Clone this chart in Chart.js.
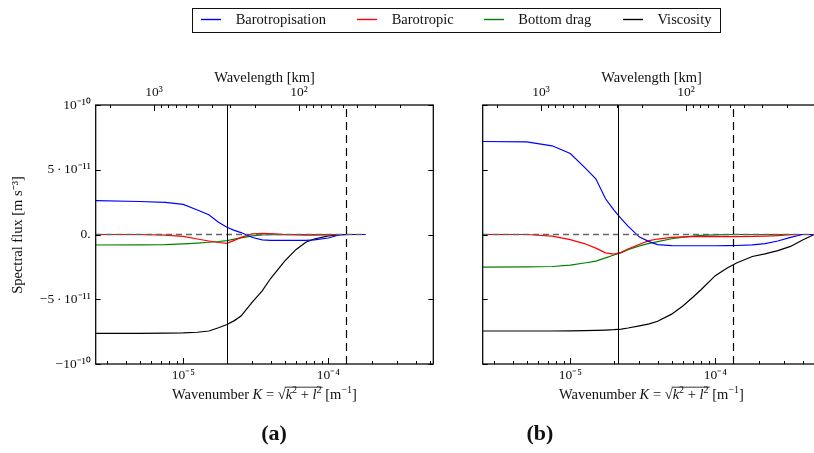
<!DOCTYPE html>
<html>
<head>
<meta charset="utf-8">
<script src="https://cdn.jsdelivr.net/npm/chart.js@4.4.1/dist/chart.umd.min.js"></script>
<style>
  html, body { margin: 0; padding: 0; background: #fff; }
  body { width: 814px; height: 453px; position: relative; overflow: hidden; font-family: "Liberation Serif", serif; color: #111; }
  canvas { position: absolute; top: 0; }
  #legend { position: absolute; left: 192px; top: 8px; width: 529px; height: 25px; border: 1px solid #111; box-sizing: border-box; z-index: 2; }
  .sw { position: absolute; top: 9px; width: 20px; height: 3px; }
  .lb { position: absolute; top: 2px; font-size: 14.5px; line-height: 17px; }
  .tag { position: absolute; top: 420px; width: 60px; text-align: center; font: bold 22px "Liberation Serif", serif; }
</style>
</head>
<body>
<div id="legend"></div>
<canvas id="panelA" width="440" height="453" style="left:0"></canvas>
<canvas id="panelB" width="440" height="453" style="left:390px"></canvas>
<div class="tag" style="left:244px">(a)</div>
<div class="tag" style="left:510px">(b)</div>
<script>
// series names and colours
const seriesNames = ["Barotropisation", "Barotropic", "Bottom drag", "Viscosity"];
const seriesColors = ["#0000ff", "#ff0000", "#008000", "#000000"];

// y ticks, flux in units of 1e-11 m s^-3
const yTicks = [-10, -5, 0, 5, 10];
const yTickText = ["\u221210\u207B\u00B9\u2070", "\u22125\u2009\u00B7\u200910\u207B\u00B9\u00B9", "0.", "5\u2009\u00B7\u200910\u207B\u00B9\u00B9", "10\u207B\u00B9\u2070"];

// panel (a): wavenumber K [m^-1] and fluxes [1e-11 m s^-3]
const kA = [2.5e-6, 5e-6, 7.5e-6, 1e-5, 1.25e-5, 1.5e-5, 1.75e-5, 2e-5, 2.25e-5, 2.5e-5, 3e-5, 3.5e-5, 4e-5, 5e-5, 6e-5, 7e-5, 8e-5, 1e-4, 1.2e-4, 1.4e-4, 1.8e-4];
const baroA = [2.61, 2.55, 2.48, 2.32, 1.89, 1.52, 0.94, 0.56, 0.32, 0.15, -0.23, -0.42, -0.45, -0.46, -0.46, -0.45, -0.42, -0.27, -0.02, 0, 0];
const tropA = [0, 0, -0.05, -0.15, -0.35, -0.5, -0.62, -0.68, -0.45, -0.22, 0.05, 0.08, 0.06, 0, -0.03, -0.05, -0.05, -0.04, -0.02, 0, 0];
const dragA = [-0.81, -0.8, -0.78, -0.72, -0.66, -0.6, -0.54, -0.47, -0.36, -0.26, -0.1, -0.04, -0.02, -0.01, 0, 0, 0, 0, 0, 0, 0];
const viscA = [-7.63, -7.63, -7.62, -7.6, -7.55, -7.45, -7.2, -6.95, -6.65, -6.3, -5.2, -4.35, -3.4, -2.05, -1.15, -0.6, -0.35, -0.1, -0.02, 0, 0];
const kSolidA = 2.0e-5;
const kDashA = 1.32e-4;

// panel (b)
const kB = [2.5e-6, 5e-6, 7.5e-6, 1e-5, 1.25e-5, 1.5e-5, 1.75e-5, 2e-5, 2.25e-5, 2.5e-5, 3e-5, 3.5e-5, 4e-5, 5e-5, 6e-5, 7e-5, 8e-5, 1e-4, 1.2e-4, 1.4e-4, 1.8e-4, 2.2e-4, 2.7e-4, 3.3e-4, 4e-4, 4.8e-4];
const baroB = [7.18, 7.15, 6.85, 6.25, 5.2, 4.3, 2.76, 1.88, 1.2, 0.65, -0.2, -0.55, -0.78, -0.86, -0.87, -0.87, -0.87, -0.87, -0.86, -0.85, -0.8, -0.7, -0.5, -0.22, 0, 0];
const tropB = [0, 0, -0.12, -0.4, -0.7, -1.05, -1.42, -1.52, -1.38, -1.12, -0.75, -0.47, -0.35, -0.22, -0.18, -0.17, -0.17, -0.17, -0.17, -0.17, -0.15, -0.12, -0.08, -0.02, 0, 0];
const dragB = [-2.52, -2.5, -2.47, -2.37, -2.2, -2.05, -1.8, -1.58, -1.4, -1.17, -0.88, -0.69, -0.55, -0.33, -0.2, -0.12, -0.07, -0.03, -0.01, 0, 0, 0, 0, 0, 0, 0];
const viscB = [-7.45, -7.45, -7.45, -7.44, -7.43, -7.41, -7.38, -7.35, -7.3, -7.22, -7.05, -6.9, -6.7, -6.15, -5.5, -4.85, -4.25, -3.18, -2.6, -2.2, -1.7, -1.5, -1.25, -0.92, -0.42, 0];
const kSolidB = 2.15e-5;
const kDashB = 1.32e-4;

// axis range in K (same for both panels)
const kMin = 2.489e-6;
const kMax = 5.297e-4;

const SERIF = '"Liberation Serif", serif';
const supDigits = { "-": "\u207B", "0": "\u2070", "1": "\u00B9", "2": "\u00B2", "3": "\u00B3", "4": "\u2074", "5": "\u2075", "6": "\u2076", "7": "\u2077", "8": "\u2078", "9": "\u2079" };

function decadeLabel(v) {
    const e = Math.log10(v);
    const r = Math.round(e);
    if (Math.abs(e - r) > 1e-6) return "";
    return "10" + String(r).split("").map(c => supDigits[c]).join("");
}

// legend strip across the top, swatches are tiny svg lines
const legendPos = [[8, 42.7], [164.3, 198.7], [291, 325.3], [430.3, 464.5]];
const legendEl = document.getElementById("legend");
seriesNames.forEach((name, i) => {
    const sw = document.createElementNS("http://www.w3.org/2000/svg", "svg");
    sw.setAttribute("class", "sw");
    sw.setAttribute("width", "20");
    sw.setAttribute("height", "3");
    sw.style.left = legendPos[i][0] + "px";
    sw.innerHTML = '<line x1="0" y1="1.5" x2="20" y2="1.5" stroke="' + seriesColors[i] + '" stroke-width="1.4"/>';
    legendEl.appendChild(sw);
    const lb = document.createElement("div");
    lb.className = "lb";
    lb.style.left = legendPos[i][1] + "px";
    lb.textContent = name;
    legendEl.appendChild(lb);
});

// mantissa ticks 1..9 x 10^n inside [lo, hi]
function logTicks(lo, hi) {
    const out = [];
    for (let e = Math.floor(Math.log10(lo)); e <= Math.ceil(Math.log10(hi)); e++) {
        for (let m = 1; m <= 9; m++) {
            const v = m * Math.pow(10, e);
            if (v >= lo * 0.9999 && v <= hi * 1.0001) out.push({ v, major: m === 1 });
        }
    }
    return out;
}

function drawKTitle(ctx, cx, cy) {
    const fs = 14.5;
    const rom = fs + "px " + SERIF;
    const ita = "italic " + rom;
    const sml = (fs * 0.7).toFixed(1) + "px " + SERIF;
    const parts = [
        { t: "Wavenumber ", f: rom }, { t: "K", f: ita }, { t: " = ", f: rom }, { t: "\u221A", f: rom },
        { t: "k", f: ita, r: 1 }, { t: "2", f: sml, s: 1, r: 1 }, { t: " + ", f: rom, r: 1 },
        { t: "l", f: ita, r: 1 }, { t: "2", f: sml, s: 1, r: 1 },
        { t: " [m", f: rom }, { t: "\u22121", f: sml, s: 1 }, { t: "]", f: rom }
    ];
    let total = 0;
    parts.forEach(p => { ctx.font = p.f; p.w = ctx.measureText(p.t).width; total += p.w; });
    let x = cx - total / 2;
    const base = cy + fs * 0.33;
    let r0 = null, r1 = null;
    ctx.textAlign = "left";
    ctx.textBaseline = "alphabetic";
    parts.forEach(p => {
        ctx.font = p.f;
        ctx.fillText(p.t, x, p.s ? base - fs * 0.38 : base);
        if (p.r) { if (r0 === null) r0 = x; r1 = x + p.w; }
        x += p.w;
    });
    ctx.beginPath();
    ctx.lineWidth = 0.8;
    ctx.moveTo(r0 - 1, base - fs * 0.8);
    ctx.lineTo(r1 + 1, base - fs * 0.8);
    ctx.stroke();
}

const framePlugin = {
    id: "frame",
    afterDatasetsDraw(chart, args, o) {
        const ctx = chart.ctx;
        const a = chart.chartArea;
        const x = chart.scales.x, y = chart.scales.y;
        ctx.save();
        ctx.beginPath();
        ctx.rect(a.left, a.top, a.right - a.left, a.bottom - a.top);
        ctx.clip();
        // zero line over the sampled K range
        ctx.strokeStyle = "#666";
        ctx.lineWidth = 1.6;
        ctx.setLineDash([6, 4]);
        ctx.beginPath();
        ctx.moveTo(x.getPixelForValue(o.k[0]), y.getPixelForValue(0));
        ctx.lineTo(x.getPixelForValue(o.k[o.k.length - 1]), y.getPixelForValue(0));
        ctx.stroke();
        // forcing / dissipation scales
        ctx.strokeStyle = "#000";
        ctx.lineWidth = 1;
        ctx.setLineDash([]);
        let px = Math.round(x.getPixelForValue(o.kSolid)) + 0.5;
        ctx.beginPath(); ctx.moveTo(px, a.top); ctx.lineTo(px, a.bottom); ctx.stroke();
        ctx.lineWidth = 1.2;
        ctx.setLineDash([8, 5]);
        px = Math.round(x.getPixelForValue(o.kDash)) + 0.5;
        ctx.beginPath(); ctx.moveTo(px, a.bottom); ctx.lineTo(px, a.top); ctx.stroke();
        ctx.restore();
    },
    afterDraw(chart, args, o) {
        const ctx = chart.ctx;
        const a = chart.chartArea;
        const x = chart.scales.x, y = chart.scales.y, top = chart.scales.top;
        ctx.save();
        ctx.strokeStyle = "#000";
        ctx.fillStyle = "#111";
        ctx.lineWidth = 1.25;
        ctx.setLineDash([]);
        ctx.strokeRect(a.left, a.top, a.right - a.left, a.bottom - a.top);
        ctx.lineWidth = 1;
        ctx.beginPath();
        // inward ticks, bottom K axis
        logTicks(x.min, x.max).forEach(t => {
            const px = Math.round(x.getPixelForValue(t.v)) + 0.5;
            ctx.moveTo(px, a.bottom); ctx.lineTo(px, a.bottom - (t.major ? 6 : 3));
        });
        // inward ticks, top wavelength axis
        logTicks(top.min, top.max).forEach(t => {
            const px = Math.round(top.getPixelForValue(t.v)) + 0.5;
            ctx.moveTo(px, a.top); ctx.lineTo(px, a.top + (t.major ? 6 : 3));
        });
        // y ticks on both spines
        yTicks.forEach(v => {
            const py = Math.round(y.getPixelForValue(v)) + 0.5;
            ctx.moveTo(a.left, py); ctx.lineTo(a.left + 5, py);
            ctx.moveTo(a.right, py); ctx.lineTo(a.right - 5, py);
        });
        ctx.stroke();

        // axis titles
        ctx.font = "14.5px " + SERIF;
        ctx.textAlign = "center";
        ctx.textBaseline = "middle";
        ctx.fillText("Wavelength [km]", (a.left + a.right) / 2, 78);
        drawKTitle(ctx, (a.left + a.right) / 2, 394);
        if (o.yTitle) {
            ctx.save();
            ctx.translate(18, 235);
            ctx.rotate(-Math.PI / 2);
            ctx.font = "14.5px " + SERIF;
            ctx.textAlign = "center";
            ctx.textBaseline = "middle";
            ctx.fillText("Spectral flux [m s\u207B\u00B3]", 0, 0);
            ctx.restore();
        }
        ctx.restore();
    }
};

function buildPanel(canvasId, k, values, opt) {
    const datasets = values.map((vals, i) => ({
        label: seriesNames[i],
        data: k.map((kv, j) => ({ x: kv, y: vals[j] })),
        borderColor: seriesColors[i],
        backgroundColor: seriesColors[i],
        borderWidth: 1.2,
        pointRadius: 0,
        tension: 0,
        fill: false
    }));
    const tickFont = { family: SERIF, size: 13.5 };
    const noGrid = { display: false, drawTicks: false };
    new Chart(document.getElementById(canvasId), {
        type: "line",
        data: { datasets },
        plugins: [framePlugin],
        options: {
            responsive: false,
            devicePixelRatio: 1,
            animation: false,
            events: [],
            layout: { padding: { left: 0, right: opt.padRight, top: 0, bottom: 0 } },
            scales: {
                x: {
                    type: "logarithmic", position: "bottom", min: kMin, max: kMax,
                    grid: noGrid, border: { display: false },
                    ticks: { autoSkip: false, maxRotation: 0, padding: 3, color: "#111", font: tickFont, callback: v => decadeLabel(v) },
                    afterFit: s => { s.height = 89; }
                },
                top: {
                    type: "logarithmic", position: "top", reverse: true,
                    min: 2 * Math.PI / kMax / 1000, max: 2 * Math.PI / kMin / 1000,
                    grid: noGrid, border: { display: false },
                    ticks: { autoSkip: false, maxRotation: 0, padding: 4, color: "#111", font: tickFont, callback: v => decadeLabel(v) },
                    afterFit: s => { s.height = 105; }
                },
                y: {
                    type: "linear", position: "left", min: -10, max: 10,
                    grid: noGrid, border: { display: false },
                    ticks: {
                        display: opt.yLabels, stepSize: 5, padding: 5, color: "#111", font: tickFont,
                        callback: v => yTickText[yTicks.indexOf(v)]
                    },
                    afterFit: s => { s.width = opt.yWidth; }
                }
            },
            plugins: {
                legend: { display: false },
                tooltip: { enabled: false },
                frame: { k, kSolid: opt.kSolid, kDash: opt.kDash, yTitle: opt.yLabels }
            }
        }
    });
}

buildPanel("panelA", kA, [baroA, tropA, dragA, viscA], { padRight: 6.7, yWidth: 95.7, yLabels: true, kSolid: kSolidA, kDash: kDashA });
buildPanel("panelB", kB, [baroB, tropB, dragB, viscB], { padRight: 9.7, yWidth: 92.7, yLabels: false, kSolid: kSolidB, kDash: kDashB });
</script>
</body>
</html>
